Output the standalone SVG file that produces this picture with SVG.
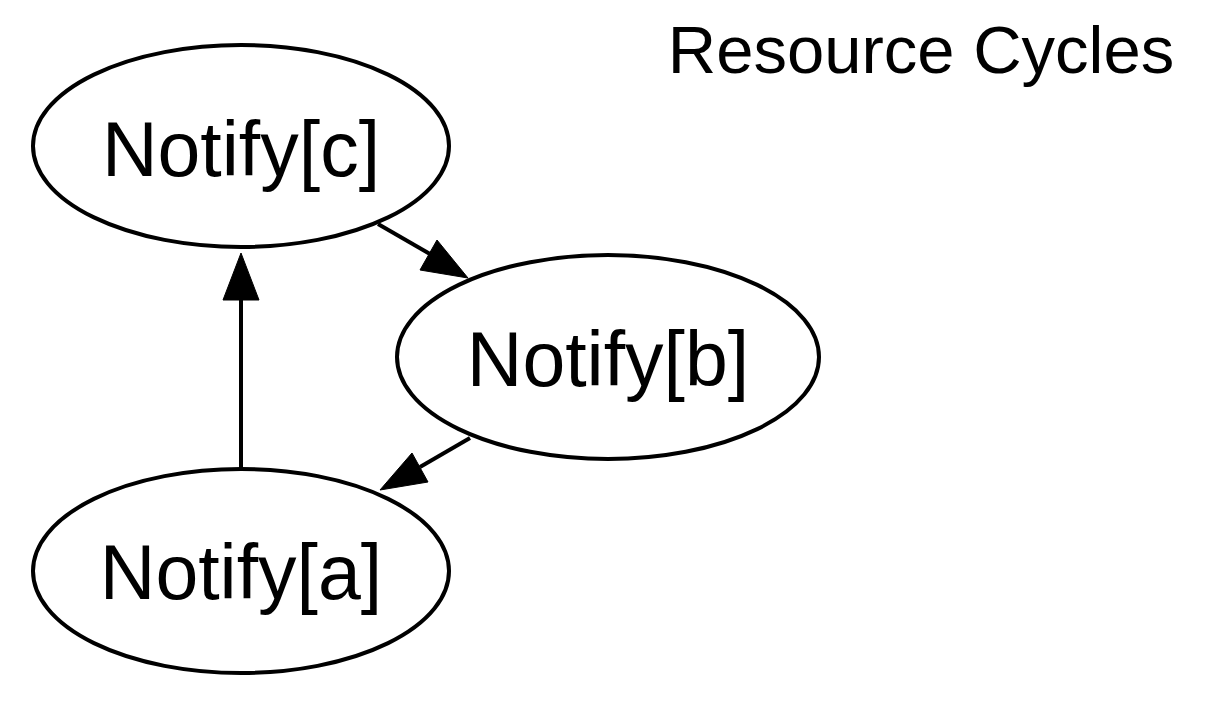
<svg xmlns="http://www.w3.org/2000/svg" width="1221" height="709" viewBox="0 0 1221 709">
<style>
.node ellipse{fill:#fff;stroke:#000;stroke-width:4}
.label{font-family:"Liberation Sans",Arial,sans-serif;font-size:77px;fill:#000;text-anchor:middle}
.edge line{stroke:#000;stroke-width:4}
.head{fill:#000;stroke:#000;stroke-width:1}
</style>
<rect width="1221" height="709" fill="#fff"/>
<text x="921" y="73" style="font-family:'Liberation Sans',Arial,sans-serif;font-size:67px;fill:#000;text-anchor:middle">Resource Cycles</text>
<g id="connectors">
<g class="edge" id="a-c">
<line x1="241" y1="469" x2="241" y2="298"/>
<polygon class="head" points="241,253 223,300 259,300"/>
</g>
<g class="edge" id="c-b">
<line x1="378" y1="224" x2="430" y2="254"/>
<polygon class="head" points="468,278 420,270 437,240"/>
</g>
<g class="edge" id="b-a">
<line x1="470" y1="438" x2="420" y2="467"/>
<polygon class="head" points="380,490 412,453 428,482"/>
</g>
</g>
<g class="node" id="node-c">
<ellipse cx="241" cy="146" rx="208" ry="101"/>
<text class="label" x="241" y="176">Notify[c]</text>
</g>
<g class="node" id="node-b">
<ellipse cx="608" cy="357" rx="211" ry="102"/>
<text class="label" x="608" y="386">Notify[b]</text>
</g>
<g class="node" id="node-a">
<ellipse cx="241" cy="571" rx="208" ry="102"/>
<text class="label" x="241" y="599">Notify[a]</text>
</g>
</svg>
